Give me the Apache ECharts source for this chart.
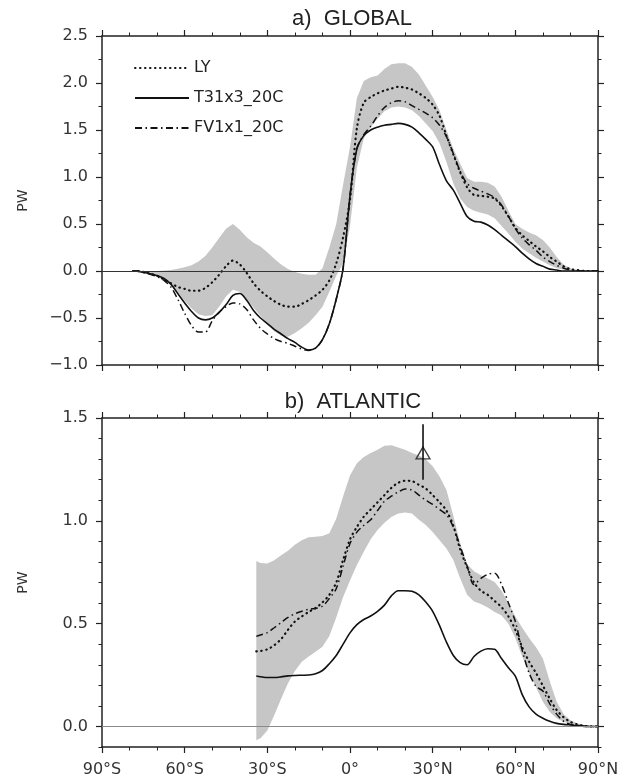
<!DOCTYPE html>
<html>
<head>
<meta charset="utf-8">
<script src="https://cdn.jsdelivr.net/npm/echarts@6/dist/echarts.min.js"></script>
<style>
  html, body { margin: 0; padding: 0; background: #fff; }
  #chart { width: 627px; height: 784px; }
</style>
</head>
<body>
<div id="chart"></div>
<script>
// ---------- a) GLOBAL : northward heat transport (PW) ----------
const globalLat = [-78.75, -77.5, -75, -72.5, -70, -67.5, -65, -62.5, -60, -57.5,
  -55, -52.5, -50, -47.5, -45, -42.5, -40, -37.5, -35, -32.5,
  -30, -27.5, -25, -22.5, -20, -17.5, -15, -12.5, -10, -7.5,
  -5, -2.5, 0, 2.5, 5, 7.5, 10, 12.5, 15, 17.5,
  20, 22.5, 25, 27.5, 30, 32.5, 35, 37.5, 40, 42.5,
  45, 47.5, 50, 52.5, 55, 57.5, 60, 62.5, 65, 67.5,
  70, 72.5, 75, 77.5, 80, 82.5, 85, 87.5, 90];

const globalLY = [0, 0, -0.01, -0.03, -0.05, -0.09, -0.13, -0.17, -0.19, -0.21,
  -0.21, -0.18, -0.12, -0.04, 0.05, 0.11, 0.07, -0.02, -0.13, -0.21,
  -0.27, -0.32, -0.36, -0.38, -0.38, -0.35, -0.31, -0.26, -0.20, -0.10,
  0.08, 0.36, 0.76, 1.52, 1.79, 1.85, 1.89, 1.92, 1.94, 1.96,
  1.95, 1.93, 1.89, 1.84, 1.77, 1.65, 1.44, 1.24, 1.05, 0.89,
  0.81, 0.80, 0.79, 0.77, 0.69, 0.58, 0.46, 0.38, 0.32, 0.26,
  0.21, 0.15, 0.10, 0.05, 0.02, 0.01, 0, 0, 0];

const globalT31 = [0, 0, -0.015, -0.03, -0.05, -0.08, -0.14, -0.24, -0.34, -0.43,
  -0.50, -0.52, -0.50, -0.44, -0.36, -0.26, -0.24, -0.31, -0.42, -0.50,
  -0.56, -0.62, -0.67, -0.72, -0.76, -0.81, -0.84, -0.82, -0.73, -0.56,
  -0.30, 0.03, 0.80, 1.30, 1.44, 1.50, 1.53, 1.55, 1.56, 1.57,
  1.56, 1.53, 1.47, 1.40, 1.32, 1.13, 0.96, 0.86, 0.72, 0.58,
  0.53, 0.52, 0.49, 0.44, 0.38, 0.32, 0.26, 0.19, 0.13, 0.08,
  0.05, 0.02, 0.01, 0, 0, 0, 0, 0, 0];

const globalFV = [0, 0, -0.015, -0.035, -0.06, -0.10, -0.17, -0.30, -0.45, -0.58,
  -0.65, -0.65, -0.53, -0.44, -0.38, -0.34, -0.35, -0.41, -0.52, -0.61,
  -0.67, -0.72, -0.75, -0.77, -0.80, -0.83, -0.845, -0.82, -0.73, -0.56,
  -0.30, 0.03, 0.80, 1.30, 1.45, 1.54, 1.65, 1.74, 1.79, 1.81,
  1.80, 1.76, 1.72, 1.68, 1.63, 1.55, 1.43, 1.25, 1.06, 0.93,
  0.88, 0.85, 0.82, 0.78, 0.70, 0.58, 0.45, 0.35, 0.28, 0.22,
  0.15, 0.10, 0.06, 0.03, 0.01, 0, 0, 0, 0];

const globalBandHigh = [0, 0, 0, 0, 0, 0.005, 0.01, 0.025, 0.04, 0.06,
  0.10, 0.16, 0.25, 0.35, 0.45, 0.50, 0.44, 0.36, 0.30, 0.26,
  0.20, 0.13, 0.07, 0.02, -0.01, -0.03, -0.04, -0.04, 0.03, 0.25,
  0.50, 0.92, 1.32, 1.84, 2.02, 2.06, 2.08, 2.15, 2.20, 2.21,
  2.21, 2.17, 2.09, 1.97, 1.85, 1.71, 1.50, 1.30, 1.14, 0.99,
  0.95, 0.95, 0.94, 0.90, 0.79, 0.64, 0.50, 0.45, 0.41, 0.38,
  0.33, 0.25, 0.15, 0.07, 0.03, 0.01, 0, 0, 0];

const globalBandLow = [0, 0, -0.01, -0.025, -0.045, -0.08, -0.13, -0.22, -0.32, -0.40,
  -0.46, -0.48, -0.47, -0.38, -0.27, -0.20, -0.22, -0.30, -0.39, -0.48,
  -0.57, -0.64, -0.69, -0.70, -0.66, -0.61, -0.55, -0.47, -0.38, -0.22,
  -0.05, 0.08, 0.48, 1.10, 1.41, 1.53, 1.62, 1.70, 1.74, 1.75,
  1.74, 1.71, 1.65, 1.57, 1.49, 1.36, 1.16, 0.93, 0.77, 0.68,
  0.64, 0.62, 0.60, 0.56, 0.48, 0.40, 0.31, 0.24, 0.19, 0.14,
  0.10, 0.06, 0.03, 0.015, 0.01, 0, 0, 0, 0];

// ---------- b) ATLANTIC ----------
const atlLat = [-34, -32.5, -30, -27.5, -25, -22.5, -20, -17.5, -15, -12.5,
  -10, -7.5, -5, -2.5, 0, 2.5, 5, 7.5, 10, 12.5,
  15, 17.5, 20, 22.5, 25, 27.5, 30, 32.5, 35, 37.5,
  40, 42.5, 45, 47.5, 50, 52.5, 55, 57.5, 60, 62.5,
  65, 67.5, 70, 72.5, 75, 77.5, 80, 82.5, 85, 87.5, 90];

const atlLY = [0.365, 0.367, 0.375, 0.395, 0.425, 0.47, 0.51, 0.535, 0.557, 0.576,
  0.603, 0.64, 0.70, 0.81, 0.91, 0.97, 1.02, 1.055, 1.09, 1.125,
  1.16, 1.185, 1.195, 1.193, 1.175, 1.157, 1.125, 1.09, 1.05, 0.976,
  0.86, 0.775, 0.70, 0.66, 0.64, 0.61, 0.58, 0.535, 0.47, 0.385,
  0.315, 0.26, 0.198, 0.135, 0.08, 0.045, 0.022, 0.01, 0.003, 0, 0];

const atlT31 = [0.245, 0.242, 0.238, 0.238, 0.241, 0.246, 0.248, 0.249, 0.25, 0.256,
  0.272, 0.305, 0.345, 0.40, 0.455, 0.495, 0.52, 0.537, 0.56, 0.59,
  0.635, 0.66, 0.66, 0.657, 0.64, 0.605, 0.56, 0.49, 0.41, 0.345,
  0.31, 0.30, 0.34, 0.366, 0.378, 0.375, 0.33, 0.285, 0.245, 0.155,
  0.095, 0.06, 0.04, 0.025, 0.015, 0.01, 0.007, 0.004, 0.002, 0, 0];

const atlFV = [0.438, 0.445, 0.456, 0.48, 0.505, 0.53, 0.548, 0.56, 0.57, 0.574,
  0.585, 0.622, 0.67, 0.78, 0.89, 0.945, 0.978, 1.005, 1.05, 1.095,
  1.12, 1.14, 1.155, 1.15, 1.125, 1.10, 1.08, 1.055, 1.03, 0.97,
  0.875, 0.78, 0.69, 0.72, 0.74, 0.745, 0.69, 0.60, 0.51, 0.37,
  0.26, 0.195, 0.172, 0.11, 0.06, 0.025, 0.01, 0.004, 0, 0, 0];

const atlBandHigh = [0.805, 0.795, 0.792, 0.808, 0.832, 0.855, 0.883, 0.905, 0.92, 0.922,
  0.926, 0.94, 1.01, 1.12, 1.22, 1.28, 1.31, 1.33, 1.345, 1.365,
  1.367, 1.357, 1.345, 1.33, 1.318, 1.30, 1.265, 1.215, 1.15, 1.025,
  0.89, 0.79, 0.755, 0.735, 0.72, 0.703, 0.66, 0.60, 0.535, 0.48,
  0.43, 0.385, 0.33, 0.22, 0.12, 0.06, 0.03, 0.015, 0.007, 0.002, 0];

const atlBandLow = [-0.067, -0.058, -0.02, 0.055, 0.135, 0.21, 0.27, 0.315, 0.34, 0.363,
  0.387, 0.44, 0.53, 0.63, 0.71, 0.785, 0.85, 0.91, 0.955, 0.99,
  1.018, 1.035, 1.04, 1.035, 1.005, 0.98, 0.945, 0.905, 0.865, 0.81,
  0.72, 0.64, 0.607, 0.596, 0.578, 0.557, 0.54, 0.50, 0.43, 0.34,
  0.26, 0.19, 0.12, 0.07, 0.04, 0.023, 0.013, 0.007, 0.003, 0.001, 0];

// Observational estimate at 26.5N with its range
const obsLat = [26.5];
const obsValue = [1.33];
const obsLow = [1.20];
const obsHigh = [1.47];

// Axis ticks
const latTicks = [-90, -60, -30, 0, 30, 60, 90];
const latTickLabels = ['90°S', '60°S', '30°S', '0°', '30°N', '60°N', '90°N'];
const atlMajorTicks = [0, 0.5, 1.0, 1.5];

const seriesNames = ['LY', 'T31x3_20C', 'FV1x1_20C'];

// ---------- styling ----------
const INK = '#222';
const BAND = '#c6c6c6';
const TICK_FONT = { fontFamily: 'DejaVu Sans', fontSize: 16, color: '#333' };

const styles = {
  LY: { color: '#111', width: 2.2, type: [0.5, 4.5], cap: 'round' },
  T31x3_20C: { color: '#111', width: 1.6, type: 'solid' },
  FV1x1_20C: { color: '#111', width: 1.5, type: [7, 3.5, 1.5, 3.5] }
};

const pairs = (xs, ys) => xs.map((x, i) => [x, ys[i]]);

function fmtY(v) {
  const s = Math.abs(v).toFixed(1);
  return v < -1e-9 ? '\u2212' + s : s;
}
function fmtLat(v) {
  const i = latTicks.indexOf(Math.round(v));
  return i >= 0 ? latTickLabels[i] : '';
}

function xAxisPair(grid, showLabels) {
  const base = {
    type: 'value', gridIndex: grid, min: -90, max: 90, interval: 30,
    axisLine: { onZero: false, lineStyle: { color: INK, width: 1.5 } },
    axisTick: { show: true, length: 6, lineStyle: { color: INK, width: 1.2 } },
    minorTick: { show: true, splitNumber: 3, length: 3.5, lineStyle: { color: INK, width: 1 } },
    splitLine: { show: false }, minorSplitLine: { show: false }
  };
  return [
    Object.assign({}, base, {
      position: 'bottom',
      axisLabel: Object.assign({ show: showLabels, margin: 15, formatter: fmtLat }, TICK_FONT)
    }),
    Object.assign({}, base, { position: 'top', axisLabel: { show: false } })
  ];
}

const yLine = { onZero: false, lineStyle: { color: INK, width: 1.5 } };
const yTick = { show: true, length: 6, lineStyle: { color: INK, width: 1.2 } };
const yMinor = { show: true, length: 3.5, lineStyle: { color: INK, width: 1 } };
const nameStyle = { fontFamily: 'DejaVu Sans', fontSize: 14, color: '#333' };

// Top panel: -1.0 .. 2.5, labelled every 0.5, minor ticks every 0.25
function globalYAxes() {
  const base = {
    type: 'value', gridIndex: 0, min: -1.0, max: 2.5, interval: 0.5,
    axisLine: yLine, axisTick: yTick,
    minorTick: Object.assign({ splitNumber: 2 }, yMinor),
    splitLine: { show: false }, minorSplitLine: { show: false }
  };
  return [
    Object.assign({}, base, {
      position: 'left',
      axisLabel: Object.assign({ margin: 14, formatter: fmtY }, TICK_FONT),
      name: 'PW', nameLocation: 'middle', nameGap: 72, nameRotate: 90, nameTextStyle: nameStyle
    }),
    Object.assign({}, base, { position: 'right', axisLabel: { show: false } })
  ];
}

// Bottom panel: -0.1 .. 1.5, labelled at 0, 0.5, 1.0, 1.5, minor ticks every 0.1
function atlYAxes() {
  const major = {
    type: 'value', gridIndex: 1, min: -0.1, max: 1.5,
    axisLine: yLine,
    axisTick: Object.assign({ customValues: atlMajorTicks }, yTick),
    splitLine: { show: false }
  };
  const minor = {
    type: 'value', gridIndex: 1, min: -0.1, max: 1.5, interval: 0.1,
    axisLine: { show: false, onZero: false },
    axisTick: { show: true, length: 3.5, lineStyle: { color: INK, width: 1 } },
    axisLabel: { show: false }, splitLine: { show: false }
  };
  return [
    Object.assign({}, major, {
      position: 'left',
      axisLabel: Object.assign({ margin: 14, formatter: fmtY, customValues: atlMajorTicks }, TICK_FONT),
      name: 'PW', nameLocation: 'middle', nameGap: 72, nameRotate: 90, nameTextStyle: nameStyle
    }),
    Object.assign({}, minor, { position: 'left' }),
    Object.assign({}, major, { position: 'right', axisLabel: { show: false } }),
    Object.assign({}, minor, { position: 'right' })
  ];
}

// Shaded spread: one polygon traced along the upper edge and back along the lower edge
function bandSeries(lat, low, high, xi, yi, zeroColor) {
  return {
    type: 'custom', name: 'band-' + xi, xAxisIndex: xi, yAxisIndex: yi,
    coordinateSystem: 'cartesian2d', silent: true, clip: true, z: 1,
    data: [[lat[0], low[0]]],
    renderItem: function (params, api) {
      const pts = [];
      for (let i = 0; i < lat.length; i++) pts.push(api.coord([lat[i], high[i]]));
      for (let i = lat.length - 1; i >= 0; i--) pts.push(api.coord([lat[i], low[i]]));
      return { type: 'polygon', shape: { points: pts }, style: { fill: BAND, stroke: null } };
    },
    markLine: {
      silent: true, symbol: ['none', 'none'], label: { show: false },
      lineStyle: { color: zeroColor, width: 1, type: 'solid' },
      data: [{ yAxis: 0 }], z: 5
    }
  };
}

function curve(name, lat, vals, xi, yi) {
  return {
    type: 'line', name: name, xAxisIndex: xi, yAxisIndex: yi,
    data: pairs(lat, vals), smooth: 0.3, symbol: 'none',
    lineStyle: styles[name], itemStyle: { color: '#111' }, z: 3
  };
}

const series = [
  bandSeries(globalLat, globalBandLow, globalBandHigh, 0, 0, '#333'),
  curve('LY', globalLat, globalLY, 0, 0),
  curve('T31x3_20C', globalLat, globalT31, 0, 0),
  curve('FV1x1_20C', globalLat, globalFV, 0, 0),
  bandSeries(atlLat, atlBandLow, atlBandHigh, 2, 2, '#8a8a8a'),
  curve('LY', atlLat, atlLY, 2, 2),
  curve('T31x3_20C', atlLat, atlT31, 2, 2),
  curve('FV1x1_20C', atlLat, atlFV, 2, 2),
  {
    type: 'line', name: 'obs-range', xAxisIndex: 2, yAxisIndex: 2,
    data: [[obsLat[0], obsLow[0]], [obsLat[0], obsHigh[0]]],
    symbol: 'none', silent: true,
    lineStyle: { color: '#111', width: 1.6 }, z: 4
  },
  {
    type: 'scatter', name: 'obs', xAxisIndex: 2, yAxisIndex: 2,
    data: pairs(obsLat, obsValue), symbol: 'triangle', symbolSize: [14, 12],
    silent: true,
    itemStyle: { color: 'rgba(255,255,255,0)', borderColor: '#111', borderWidth: 1.3 }, z: 4
  }
];

const chart = echarts.init(document.getElementById('chart'), null, { renderer: 'canvas' });
chart.setOption({
  animation: false,
  backgroundColor: '#fff',
  title: [
    { text: 'a)  GLOBAL', left: 347, top: 3, textAlign: 'center',
      textStyle: { fontFamily: 'Liberation Sans', fontSize: 22, fontWeight: 'normal', color: '#222' } },
    { text: 'b)  ATLANTIC', left: 348, top: 386, textAlign: 'center',
      textStyle: { fontFamily: 'Liberation Sans', fontSize: 22, fontWeight: 'normal', color: '#222' } }
  ],
  legend: {
    data: seriesNames, orient: 'vertical', left: 129, top: 55,
    itemWidth: 54, itemHeight: 14, itemGap: 14,
    itemStyle: { opacity: 0 },
    textStyle: { fontFamily: 'DejaVu Sans', fontSize: 16, color: '#222' },
    selectedMode: false
  },
  grid: [
    { left: 102, width: 496, top: 36, height: 329 },
    { left: 102, width: 496, top: 418, height: 329 }
  ],
  xAxis: [].concat(xAxisPair(0, false), xAxisPair(1, true)),
  yAxis: [].concat(globalYAxes(), atlYAxes()),
  series: series
});
</script>
</body>
</html>
